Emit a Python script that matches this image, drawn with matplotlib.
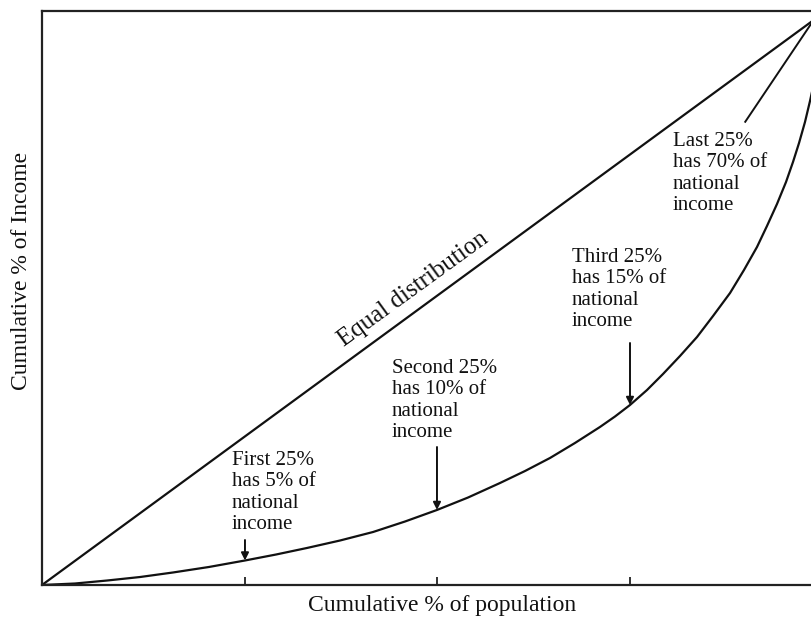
import matplotlib
matplotlib.use("Agg")
import matplotlib.pyplot as plt

# Lorenz curve (cumulative % population -> cumulative % income)
pop = [0, 4.21, 8.29, 12.50, 16.71, 21.30, 25.89, 29.85, 33.80, 38.01, 42.22,
       46.30, 50.38, 54.34, 58.42, 61.61, 64.80, 67.98, 71.17, 73.09, 75.00,
       77.17, 79.21, 81.38, 83.55, 85.59, 87.76, 89.54, 91.20, 92.47, 93.75,
       94.90, 95.79, 96.56, 97.32, 97.96, 98.60, 99.23, 100]
income = [0, 0.26, 0.78, 1.39, 2.18, 3.14, 4.27, 5.31, 6.45, 7.75, 9.23,
          11.06, 13.07, 15.24, 17.77, 19.86, 22.13, 24.74, 27.53, 29.36, 31.36,
          33.97, 36.76, 39.90, 43.21, 46.86, 50.87, 54.88, 58.89, 62.54, 66.38,
          70.21, 73.69, 77.00, 80.66, 84.32, 88.33, 93.21, 100]
equal_x = [0, 100]
equal_y = [0, 100]

# quartile marks as placed in the drawing
quartile_x = [25.89, 50.38, 75.00]
quartile_y = [4.27, 13.07, 31.36]
quartile_labels = ["First 25%\nhas 5% of\nnational\nincome",
                   "Second 25%\nhas 10% of\nnational\nincome",
                   "Third 25%\nhas 15% of\nnational\nincome"]
last_label = "Last 25%\nhas 70% of\nnational\nincome"

plt.rcParams["font.family"] = ["Liberation Serif", "DejaVu Serif"]

W, H = 812, 623
fig = plt.figure(figsize=(W / 100, H / 100), dpi=100)
# axes runs a little past the right edge of the picture, as in the original
ax = fig.add_axes([42 / W, (H - 585) / H, 784 / W, 574 / H])
ax.set_xlim(0, 100)
ax.set_ylim(0, 100)

ax.plot(equal_x, equal_y, color="#111111", lw=1.6)
ax.plot(pop, income, color="#111111", lw=1.6)

for sp in ax.spines.values():
    sp.set_linewidth(1.6)
    sp.set_color("#222222")

ax.set_xticks(quartile_x)
ax.set_xticklabels([])
ax.set_yticks([])
ax.tick_params(axis="x", direction="in", length=6, width=1.3, colors="#222222")

fs = 15
ls = 1.17

# quartile annotations: text block + downward arrow onto the curve
text_pos = [(232, 451), (392, 359), (572, 248)]   # pixel, top-left of text
arrow_top = [540, 447, 343]                       # pixel y where arrows start
for (tx, ty), lab, qx, qy, at in zip(text_pos, quartile_labels, quartile_x, quartile_y, arrow_top):
    fig.text(tx / W, 1 - ty / H, lab, fontsize=fs, va="top", ha="left",
             linespacing=ls, color="#111111")
    ystart = (585 - at) / 5.74
    ax.annotate("", xy=(qx, qy), xytext=(qx, ystart),
                arrowprops=dict(arrowstyle="-|>", color="#111111", lw=1.4,
                                mutation_scale=11, shrinkA=0, shrinkB=0))

# last quartile: text with a pointer line up to the top corner
fig.text(673 / W, 1 - 132 / H, last_label, fontsize=fs, va="top", ha="left",
         linespacing=ls, color="#111111")
ax.plot([89.7, 99.2], [80.7, 100], color="#111111", lw=1.4, clip_on=False)

ax.text(47.4, 51.6, "Equal distribution", fontsize=18, rotation=36.0,
        ha="center", va="center", color="#111111")

fig.text(442 / W, 1 - 606 / H, "Cumulative % of population", fontsize=17,
         ha="center", va="center", color="#111111")
fig.text(22 / W, 1 - 271 / H, "Cumulative % of Income", fontsize=17,
         ha="center", va="center", rotation=90, color="#111111")

fig.savefig("out.png", dpi=100)
